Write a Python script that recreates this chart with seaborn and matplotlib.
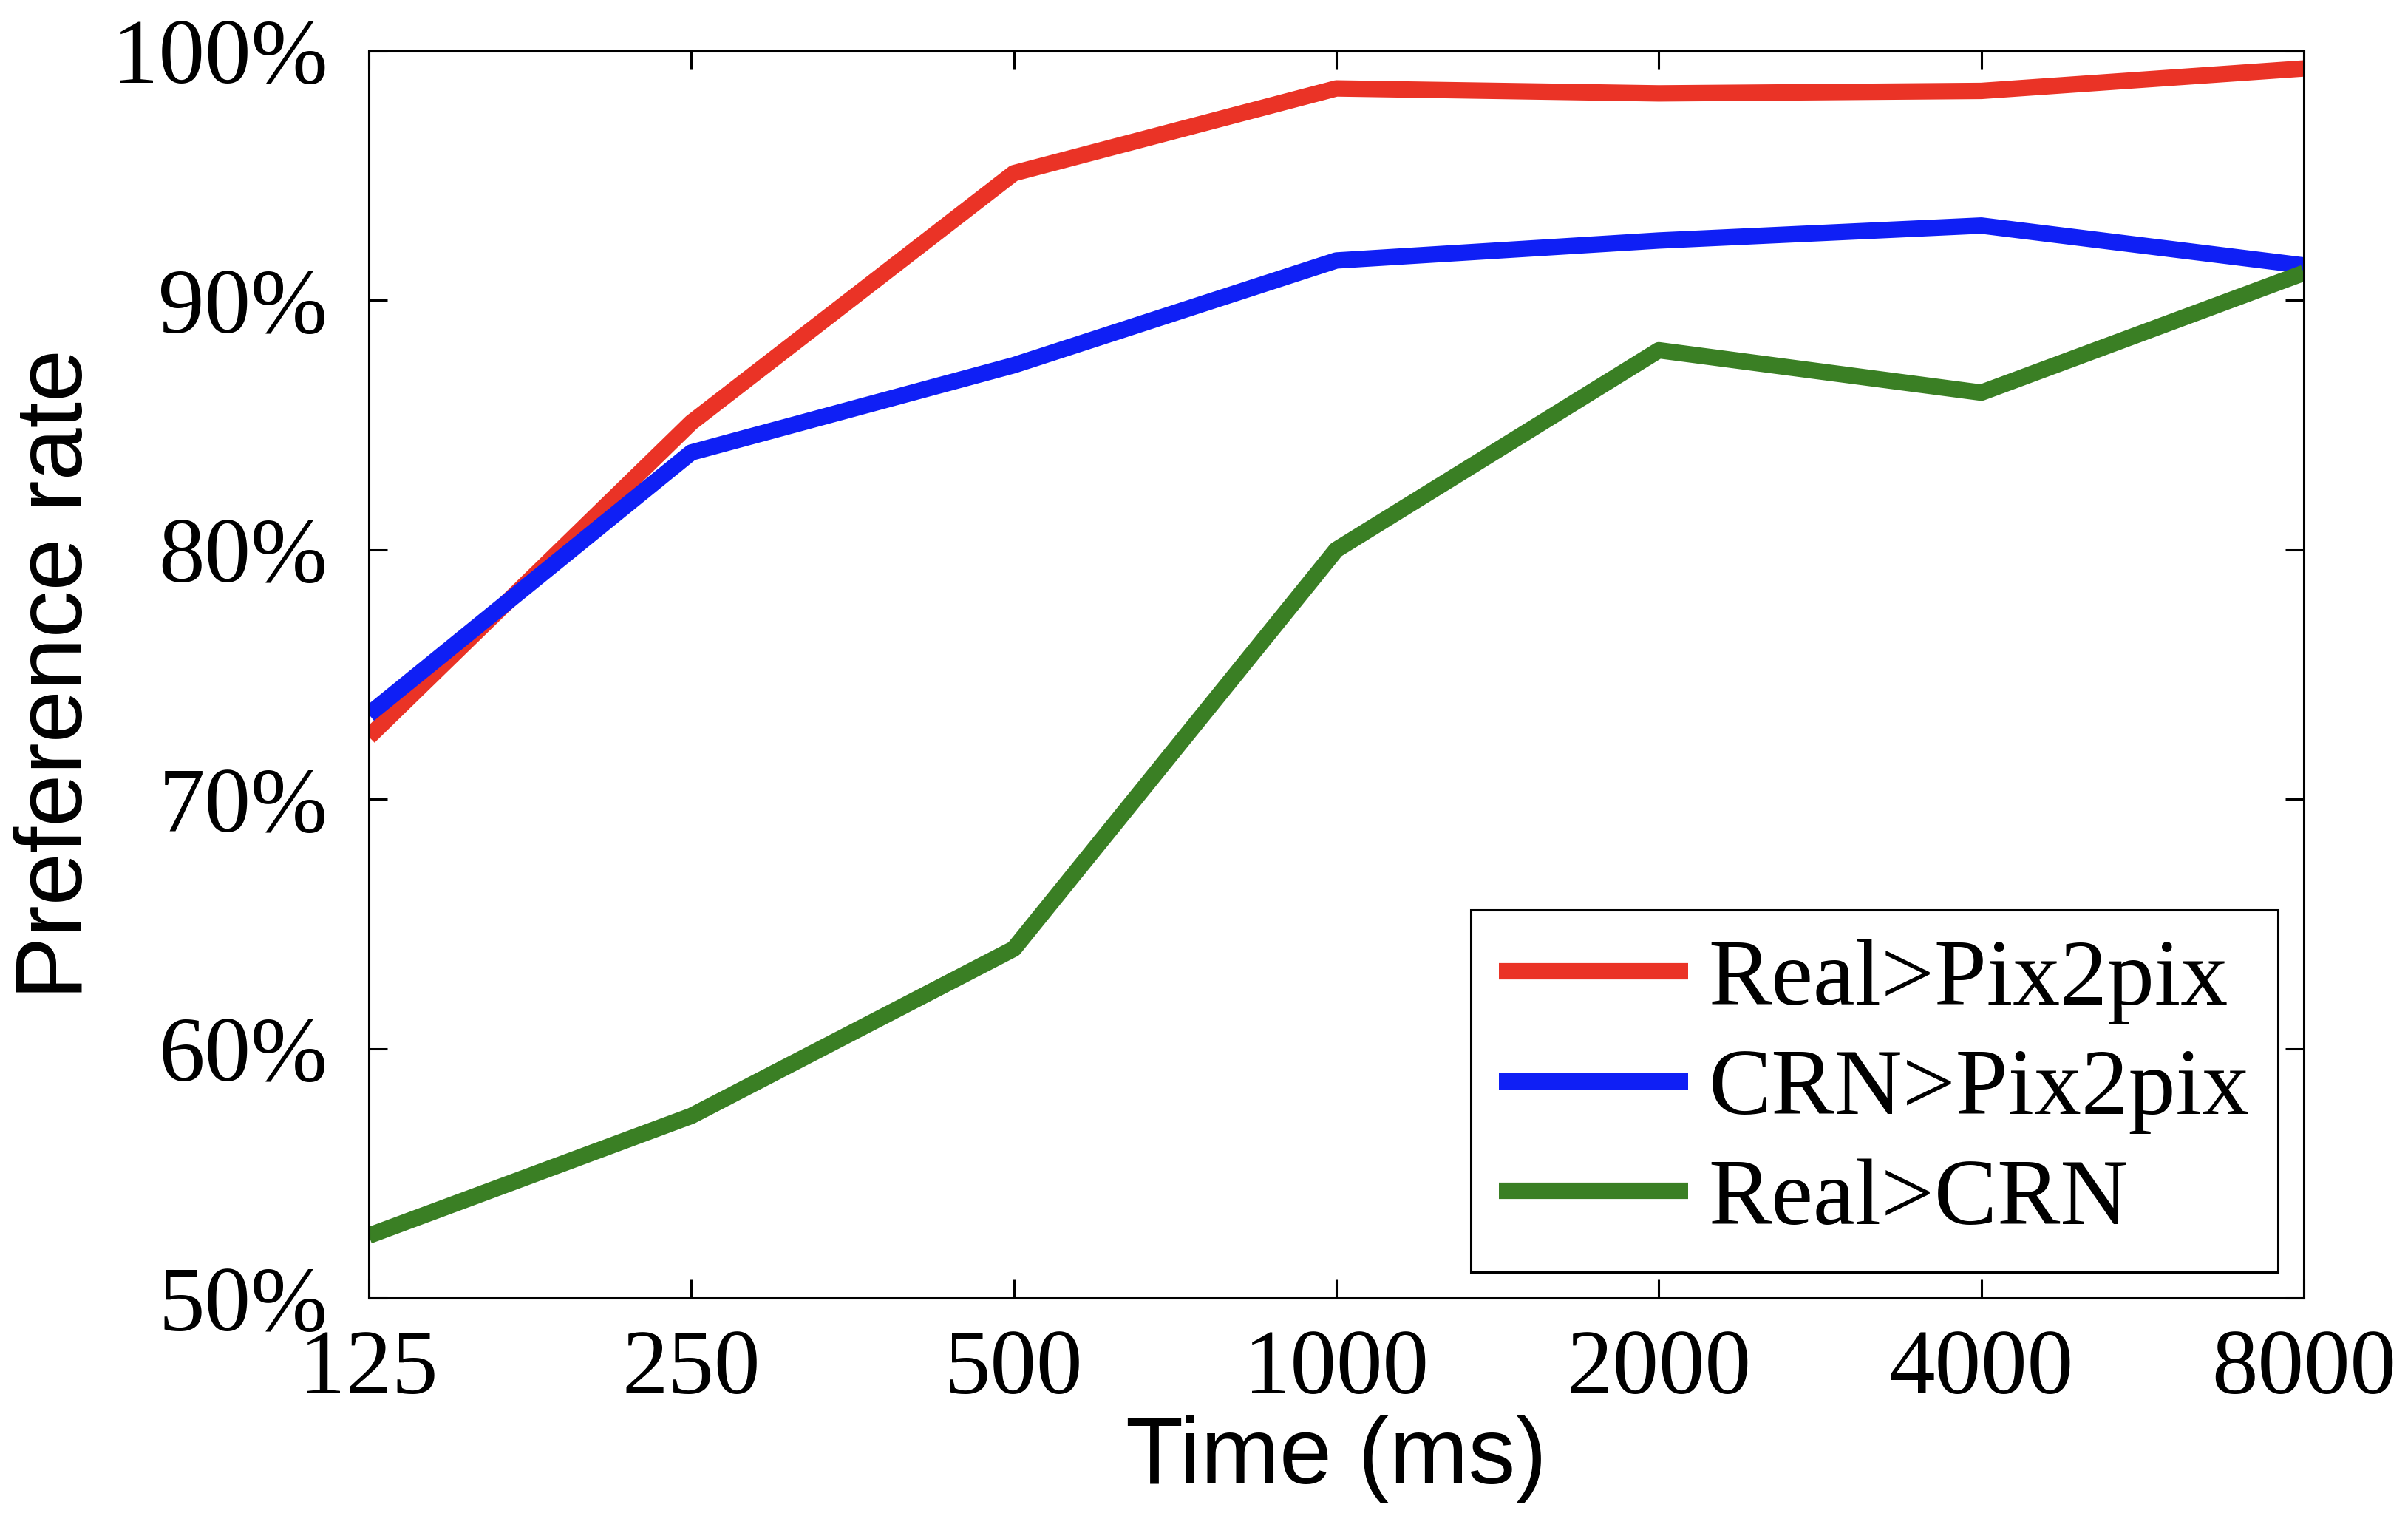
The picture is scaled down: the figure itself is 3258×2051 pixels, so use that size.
import matplotlib
matplotlib.use("Agg")
import matplotlib.pyplot as plt
import seaborn as sns
import pandas as pd
from matplotlib.ticker import FixedLocator, FixedFormatter, NullLocator

times = [125, 250, 500, 1000, 2000, 4000, 8000]
real_pix2pix = [72.5, 85.1, 95.1, 98.5, 98.3, 98.4, 99.3]
crn_pix2pix = [73.4, 83.9, 87.4, 91.6, 92.4, 93.0, 91.4]
real_crn = [52.5, 57.3, 64.0, 80.0, 88.0, 86.3, 91.1]
series_names = ["Real>Pix2pix", "CRN>Pix2pix", "Real>CRN"]
colors = ["#EA3326", "#0F1FF5", "#3A7F24"]
ytick_vals = [50, 60, 70, 80, 90, 100]
ytick_labels = ["50%", "60%", "70%", "80%", "90%", "100%"]

df = pd.concat([
    pd.DataFrame({"Time": times, "Rate": vals, "Series": name})
    for name, vals in zip(series_names, [real_pix2pix, crn_pix2pix, real_crn])
])

sns.set_theme(style="ticks")
plt.rcParams["font.family"] = ["Liberation Serif", "DejaVu Serif"]
plt.rcParams["text.color"] = "black"
plt.rcParams["axes.labelcolor"] = "black"

fig = plt.figure(figsize=(32.58, 20.51), dpi=100)
ax = fig.add_axes([499/3258, 1-1756/2051, (3117-499)/3258, (1756-69)/2051])

sns.lineplot(data=df, x="Time", y="Rate", hue="Series", hue_order=series_names,
             palette=colors, linewidth=16, ax=ax, legend=True, solid_capstyle="butt")

ax.set_xscale("log", base=2)
ax.set_xlim(125, 8000)
ax.set_ylim(50, 100)
ax.xaxis.set_major_locator(FixedLocator(times))
ax.xaxis.set_major_formatter(FixedFormatter([str(t) for t in times]))
ax.xaxis.set_minor_locator(NullLocator())
ax.yaxis.set_major_locator(FixedLocator(ytick_vals))
ax.yaxis.set_major_formatter(FixedFormatter(ytick_labels))

for s in ax.spines.values():
    s.set_visible(True)
    s.set_linewidth(2.2)
    s.set_color("black")

ax.tick_params(axis="both", direction="in", length=18, width=2.2, labelsize=90,
               top=True, right=True, colors="black")
ax.tick_params(axis="x", pad=30)
ax.tick_params(axis="y", pad=40)

ax.set_xlabel("Time (ms)", fontsize=92, family=["Liberation Sans", "DejaVu Sans"],
              labelpad=2, color="black")
ax.set_ylabel("Preference rate", fontsize=92, family=["Liberation Sans", "DejaVu Sans"],
              labelpad=10, color="black")

leg = ax.legend(loc="lower right", bbox_to_anchor=(0.9866, 0.0207), borderaxespad=0,
                fontsize=92, frameon=True, fancybox=False, framealpha=1,
                handlelength=2.0, handletextpad=0.22, labelspacing=0.25, borderpad=0.3)
leg.get_frame().set_edgecolor("black")
leg.get_frame().set_linewidth(2.2)
for line in leg.get_lines():
    line.set_linewidth(16)

fig.savefig("out.png", dpi=100)
